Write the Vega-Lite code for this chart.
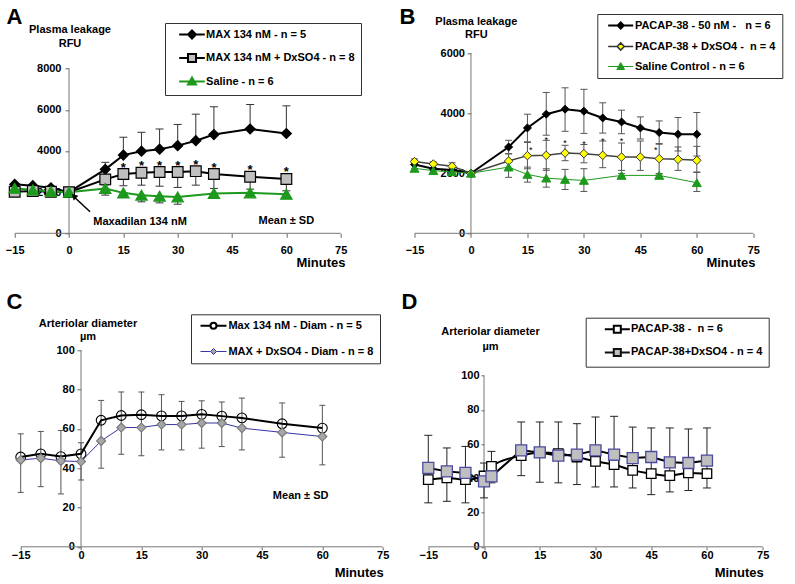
{
  "$schema": "https://vega.github.io/schema/vega-lite/v6.json",
  "autosize": {"type": "none"},
  "padding": {"left": 14.7, "top": 53.3, "right": 780.3, "bottom": 530.7},
  "background": "white",
  "config": {
    "font": "Liberation Sans",
    "view": {"stroke": null},
    "axis": {"labelFont": "Liberation Sans", "labelFontWeight": "bold", "labelFontSize": 11, "labelColor": "#000", "titleFont": "Liberation Sans", "titleFontWeight": "bold", "titleColor": "#000", "grid": false, "domain": false, "tickColor": "#666", "labelFlush": false, "labelOverlap": false, "format": "d"},
    "legend": {"labelFont": "Liberation Sans", "labelFontWeight": "bold", "labelFontSize": 11, "labelColor": "#000", "padding": 6, "strokeColor": "#333", "fillColor": "#ffffff", "labelLimit": 400, "symbolStrokeWidth": 2, "orient": "none", "direction": "vertical"}
  },
  "resolve": {"scale": {"color": "independent", "fill": "independent", "stroke": "independent", "shape": "independent", "size": "independent", "strokeWidth": "independent"}, "legend": {"fill": "independent", "color": "independent", "stroke": "independent", "shape": "independent", "size": "independent", "strokeWidth": "independent"}},
  "datasets": {
    "A": [
      {"s": "MAX 134 nM - n = 5", "t": -15, "v": 2380}, {"s": "MAX 134 nM - n = 5", "t": -10, "v": 2315}, {"s": "MAX 134 nM - n = 5", "t": -5, "v": 2215}, {"s": "MAX 134 nM - n = 5", "t": 0, "v": 2000}, {"s": "MAX 134 nM - n = 5", "t": 10, "v": 3110}, {"s": "MAX 134 nM - n = 5", "t": 15, "v": 3800}, {"s": "MAX 134 nM - n = 5", "t": 20, "v": 3990}, {"s": "MAX 134 nM - n = 5", "t": 25, "v": 4090}, {"s": "MAX 134 nM - n = 5", "t": 30, "v": 4260}, {"s": "MAX 134 nM - n = 5", "t": 35, "v": 4500}, {"s": "MAX 134 nM - n = 5", "t": 40, "v": 4800}, {"s": "MAX 134 nM - n = 5", "t": 50, "v": 5070}, {"s": "MAX 134 nM - n = 5", "t": 60, "v": 4850},
      {"s": "MAX 134 nM + DxSO4 - n = 8", "t": -15, "v": 2020}, {"s": "MAX 134 nM + DxSO4 - n = 8", "t": -10, "v": 2056}, {"s": "MAX 134 nM + DxSO4 - n = 8", "t": -5, "v": 2022}, {"s": "MAX 134 nM + DxSO4 - n = 8", "t": 0, "v": 2000}, {"s": "MAX 134 nM + DxSO4 - n = 8", "t": 10, "v": 2620}, {"s": "MAX 134 nM + DxSO4 - n = 8", "t": 15, "v": 2880}, {"s": "MAX 134 nM + DxSO4 - n = 8", "t": 20, "v": 2940}, {"s": "MAX 134 nM + DxSO4 - n = 8", "t": 25, "v": 2975}, {"s": "MAX 134 nM + DxSO4 - n = 8", "t": 30, "v": 2975}, {"s": "MAX 134 nM + DxSO4 - n = 8", "t": 35, "v": 3020}, {"s": "MAX 134 nM + DxSO4 - n = 8", "t": 40, "v": 2880}, {"s": "MAX 134 nM + DxSO4 - n = 8", "t": 50, "v": 2750}, {"s": "MAX 134 nM + DxSO4 - n = 8", "t": 60, "v": 2635},
      {"s": "Saline - n = 6", "t": -15, "v": 2187}, {"s": "Saline - n = 6", "t": -10, "v": 2105}, {"s": "Saline - n = 6", "t": -5, "v": 2030}, {"s": "Saline - n = 6", "t": 0, "v": 2000}, {"s": "Saline - n = 6", "t": 10, "v": 2180}, {"s": "Saline - n = 6", "t": 15, "v": 1966}, {"s": "Saline - n = 6", "t": 20, "v": 1854}, {"s": "Saline - n = 6", "t": 25, "v": 1805}, {"s": "Saline - n = 6", "t": 30, "v": 1770}, {"s": "Saline - n = 6", "t": 40, "v": 1937}, {"s": "Saline - n = 6", "t": 50, "v": 1966}, {"s": "Saline - n = 6", "t": 60, "v": 1900}
    ],
    "Aerr": [
      {"t": 10, "lo": 3110, "hi": 3450}, {"t": 15, "lo": 3800, "hi": 4670}, {"t": 20, "lo": 3990, "hi": 4910}, {"t": 25, "lo": 4090, "hi": 5070}, {"t": 30, "lo": 4260, "hi": 5290}, {"t": 35, "lo": 4500, "hi": 5790}, {"t": 40, "lo": 4800, "hi": 6150}, {"t": 50, "lo": 5070, "hi": 6260}, {"t": 60, "lo": 4850, "hi": 6195},
      {"t": 10, "lo": 2350, "hi": 2620}, {"t": 15, "lo": 2310, "hi": 2880}, {"t": 20, "lo": 2340, "hi": 2940}, {"t": 25, "lo": 2290, "hi": 2975}, {"t": 30, "lo": 2230, "hi": 2975}, {"t": 35, "lo": 2340, "hi": 3020}, {"t": 40, "lo": 2180, "hi": 2880}, {"t": 50, "lo": 2146, "hi": 2750}, {"t": 60, "lo": 2065, "hi": 2635},
      {"t": 10, "lo": 1855, "hi": 2180}, {"t": 15, "lo": 1740, "hi": 1966}, {"t": 20, "lo": 1530, "hi": 1854}, {"t": 25, "lo": 1480, "hi": 1805}, {"t": 30, "lo": 1415, "hi": 1770}
    ],
    "Astar": [
      {"t": 15, "y": 3317}, {"t": 20, "y": 3400}, {"t": 25, "y": 3400}, {"t": 30, "y": 3400}, {"t": 35, "y": 3480}, {"t": 40, "y": 3340}, {"t": 50, "y": 3237}, {"t": 60, "y": 3125}
    ],
    "B": [
      {"s": "PACAP-38 - 50 nM -\u00a0\u00a0 n = 6", "t": -15, "v": 2290}, {"s": "PACAP-38 - 50 nM -\u00a0\u00a0 n = 6", "t": -10, "v": 2150}, {"s": "PACAP-38 - 50 nM -\u00a0\u00a0 n = 6", "t": -5, "v": 2110}, {"s": "PACAP-38 - 50 nM -\u00a0\u00a0 n = 6", "t": 0, "v": 2000}, {"s": "PACAP-38 - 50 nM -\u00a0\u00a0 n = 6", "t": 10, "v": 2876}, {"s": "PACAP-38 - 50 nM -\u00a0\u00a0 n = 6", "t": 15, "v": 3512}, {"s": "PACAP-38 - 50 nM -\u00a0\u00a0 n = 6", "t": 20, "v": 3970}, {"s": "PACAP-38 - 50 nM -\u00a0\u00a0 n = 6", "t": 25, "v": 4137}, {"s": "PACAP-38 - 50 nM -\u00a0\u00a0 n = 6", "t": 30, "v": 4070}, {"s": "PACAP-38 - 50 nM -\u00a0\u00a0 n = 6", "t": 35, "v": 3846}, {"s": "PACAP-38 - 50 nM -\u00a0\u00a0 n = 6", "t": 40, "v": 3712}, {"s": "PACAP-38 - 50 nM -\u00a0\u00a0 n = 6", "t": 45, "v": 3512}, {"s": "PACAP-38 - 50 nM -\u00a0\u00a0 n = 6", "t": 50, "v": 3358}, {"s": "PACAP-38 - 50 nM -\u00a0\u00a0 n = 6", "t": 55, "v": 3301}, {"s": "PACAP-38 - 50 nM -\u00a0\u00a0 n = 6", "t": 60, "v": 3301},
      {"s": "PACAP-38 + DxSO4 -\u00a0 n = 4", "t": -15, "v": 2390}, {"s": "PACAP-38 + DxSO4 -\u00a0 n = 4", "t": -10, "v": 2310}, {"s": "PACAP-38 + DxSO4 -\u00a0 n = 4", "t": -5, "v": 2232}, {"s": "PACAP-38 + DxSO4 -\u00a0 n = 4", "t": 0, "v": 2000}, {"s": "PACAP-38 + DxSO4 -\u00a0 n = 4", "t": 10, "v": 2408}, {"s": "PACAP-38 + DxSO4 -\u00a0 n = 4", "t": 15, "v": 2589}, {"s": "PACAP-38 + DxSO4 -\u00a0 n = 4", "t": 20, "v": 2599}, {"s": "PACAP-38 + DxSO4 -\u00a0 n = 4", "t": 25, "v": 2676}, {"s": "PACAP-38 + DxSO4 -\u00a0 n = 4", "t": 30, "v": 2655}, {"s": "PACAP-38 + DxSO4 -\u00a0 n = 4", "t": 35, "v": 2599}, {"s": "PACAP-38 + DxSO4 -\u00a0 n = 4", "t": 40, "v": 2542}, {"s": "PACAP-38 + DxSO4 -\u00a0 n = 4", "t": 45, "v": 2542}, {"s": "PACAP-38 + DxSO4 -\u00a0 n = 4", "t": 50, "v": 2488}, {"s": "PACAP-38 + DxSO4 -\u00a0 n = 4", "t": 55, "v": 2465}, {"s": "PACAP-38 + DxSO4 -\u00a0 n = 4", "t": 60, "v": 2431},
      {"s": "Saline Control - n = 6", "t": -15, "v": 2165}, {"s": "Saline Control - n = 6", "t": -10, "v": 2088}, {"s": "Saline Control - n = 6", "t": -5, "v": 2050}, {"s": "Saline Control - n = 6", "t": 0, "v": 2000}, {"s": "Saline Control - n = 6", "t": 10, "v": 2207}, {"s": "Saline Control - n = 6", "t": 15, "v": 1963}, {"s": "Saline Control - n = 6", "t": 20, "v": 1840}, {"s": "Saline Control - n = 6", "t": 25, "v": 1796}, {"s": "Saline Control - n = 6", "t": 30, "v": 1763}, {"s": "Saline Control - n = 6", "t": 40, "v": 1930}, {"s": "Saline Control - n = 6", "t": 50, "v": 1930}, {"s": "Saline Control - n = 6", "t": 60, "v": 1686}
    ],
    "Berr": [
      {"t": -15, "lo": 2150, "hi": 2480}, {"t": -10, "lo": 2030, "hi": 2380}, {"t": -5, "lo": 2000, "hi": 2350}, {"t": 10, "lo": 2650, "hi": 3100}, {"t": 15, "lo": 3050, "hi": 3970}, {"t": 20, "lo": 3270, "hi": 4695}, {"t": 25, "lo": 3400, "hi": 4850}, {"t": 30, "lo": 3330, "hi": 4800}, {"t": 35, "lo": 3340, "hi": 4350}, {"t": 40, "lo": 3320, "hi": 4104}, {"t": 45, "lo": 3144, "hi": 3880}, {"t": 50, "lo": 2970, "hi": 3746}, {"t": 55, "lo": 2743, "hi": 3859}, {"t": 60, "lo": 2575, "hi": 4027},
      {"t": 10, "lo": 2150, "hi": 2650}, {"t": 15, "lo": 2150, "hi": 3030}, {"t": 20, "lo": 2100, "hi": 3100}, {"t": 25, "lo": 2420, "hi": 2933}, {"t": 30, "lo": 2350, "hi": 2960}, {"t": 35, "lo": 2187, "hi": 3077}, {"t": 40, "lo": 2097, "hi": 3010}, {"t": 45, "lo": 2097, "hi": 3077}, {"t": 50, "lo": 1987, "hi": 2990}, {"t": 55, "lo": 2097, "hi": 2878}, {"t": 60, "lo": 2041, "hi": 2900},
      {"t": 10, "lo": 1866, "hi": 2420}, {"t": 15, "lo": 1706, "hi": 2207}, {"t": 20, "lo": 1538, "hi": 2150}, {"t": 25, "lo": 1461, "hi": 2130}, {"t": 30, "lo": 1395, "hi": 2153}, {"t": 40, "lo": 1870, "hi": 1990}, {"t": 50, "lo": 1880, "hi": 1980}, {"t": 60, "lo": 1395, "hi": 2030}
    ],
    "Bstar": [
      {"t": 15.9, "y": 2856}, {"t": 20, "y": 3190}, {"t": 25, "y": 3077}, {"t": 30, "y": 3043}, {"t": 35, "y": 3134}, {"t": 40, "y": 3134}, {"t": 49.1, "y": 2856}
    ],
    "C": [
      {"s": "Max 134 nM - Diam - n = 5", "t": -15, "v": 45.7}, {"s": "Max 134 nM - Diam - n = 5", "t": -10, "v": 47.3}, {"s": "Max 134 nM - Diam - n = 5", "t": -5, "v": 45.9}, {"s": "Max 134 nM - Diam - n = 5", "t": 0, "v": 47.3}, {"s": "Max 134 nM - Diam - n = 5", "t": 5, "v": 64.4}, {"s": "Max 134 nM - Diam - n = 5", "t": 10, "v": 66.8}, {"s": "Max 134 nM - Diam - n = 5", "t": 15, "v": 67.2}, {"s": "Max 134 nM - Diam - n = 5", "t": 20, "v": 66.6}, {"s": "Max 134 nM - Diam - n = 5", "t": 25, "v": 66.6}, {"s": "Max 134 nM - Diam - n = 5", "t": 30, "v": 67.4}, {"s": "Max 134 nM - Diam - n = 5", "t": 35, "v": 66.5}, {"s": "Max 134 nM - Diam - n = 5", "t": 40, "v": 65.6}, {"s": "Max 134 nM - Diam - n = 5", "t": 50, "v": 62.6}, {"s": "Max 134 nM - Diam - n = 5", "t": 60, "v": 60.4},
      {"s": "MAX + DxSO4 - Diam - n = 8", "t": -15, "v": 44.2}, {"s": "MAX + DxSO4 - Diam - n = 8", "t": -10, "v": 45.1}, {"s": "MAX + DxSO4 - Diam - n = 8", "t": -5, "v": 43.7}, {"s": "MAX + DxSO4 - Diam - n = 8", "t": 0, "v": 43.4}, {"s": "MAX + DxSO4 - Diam - n = 8", "t": 5, "v": 53.9}, {"s": "MAX + DxSO4 - Diam - n = 8", "t": 10, "v": 60.7}, {"s": "MAX + DxSO4 - Diam - n = 8", "t": 15, "v": 60.7}, {"s": "MAX + DxSO4 - Diam - n = 8", "t": 20, "v": 62.2}, {"s": "MAX + DxSO4 - Diam - n = 8", "t": 25, "v": 62.2}, {"s": "MAX + DxSO4 - Diam - n = 8", "t": 30, "v": 63}, {"s": "MAX + DxSO4 - Diam - n = 8", "t": 35, "v": 63}, {"s": "MAX + DxSO4 - Diam - n = 8", "t": 40, "v": 60.4}, {"s": "MAX + DxSO4 - Diam - n = 8", "t": 50, "v": 58.2}, {"s": "MAX + DxSO4 - Diam - n = 8", "t": 60, "v": 56.1}
    ],
    "Cerr": [
      {"t": -15, "lo": 27.7, "hi": 57.5}, {"t": -10, "lo": 30.6, "hi": 58.7}, {"t": -5, "lo": 26.9, "hi": 59.2}, {"t": 0, "lo": 34, "hi": 53}, {"t": 5, "lo": 40, "hi": 74.5}, {"t": 10, "lo": 47.1, "hi": 78.8}, {"t": 15, "lo": 46.3, "hi": 78.8}, {"t": 20, "lo": 49.3, "hi": 77.4}, {"t": 25, "lo": 49.3, "hi": 74}, {"t": 30, "lo": 50.2, "hi": 74.3}, {"t": 35, "lo": 51, "hi": 73.7}, {"t": 40, "lo": 49.3, "hi": 75.7}, {"t": 50, "lo": 45.6, "hi": 73.2}, {"t": 60, "lo": 41.7, "hi": 72}
    ],
    "D": [
      {"s": "PACAP-38 -\u00a0 n = 6", "t": -15, "v": 39.3}, {"s": "PACAP-38 -\u00a0 n = 6", "t": -10, "v": 40.3}, {"s": "PACAP-38 -\u00a0 n = 6", "t": -5, "v": 39.3}, {"s": "PACAP-38 -\u00a0 n = 6", "t": 0, "v": 41.4}, {"s": "PACAP-38 -\u00a0 n = 6", "t": 2, "v": 47}, {"s": "PACAP-38 -\u00a0 n = 6", "t": 10, "v": 53.3}, {"s": "PACAP-38 -\u00a0 n = 6", "t": 15, "v": 55.2}, {"s": "PACAP-38 -\u00a0 n = 6", "t": 20, "v": 54.5}, {"s": "PACAP-38 -\u00a0 n = 6", "t": 25, "v": 52.5}, {"s": "PACAP-38 -\u00a0 n = 6", "t": 30, "v": 50}, {"s": "PACAP-38 -\u00a0 n = 6", "t": 35, "v": 48}, {"s": "PACAP-38 -\u00a0 n = 6", "t": 40, "v": 44.7}, {"s": "PACAP-38 -\u00a0 n = 6", "t": 45, "v": 42.8}, {"s": "PACAP-38 -\u00a0 n = 6", "t": 50, "v": 41.6}, {"s": "PACAP-38 -\u00a0 n = 6", "t": 55, "v": 43.2}, {"s": "PACAP-38 -\u00a0 n = 6", "t": 60, "v": 42.8},
      {"s": "PACAP-38+DxSO4 - n = 4", "t": -15, "v": 46.1}, {"s": "PACAP-38+DxSO4 - n = 4", "t": -10, "v": 44.1}, {"s": "PACAP-38+DxSO4 - n = 4", "t": -5, "v": 43.2}, {"s": "PACAP-38+DxSO4 - n = 4", "t": 0, "v": 38.3}, {"s": "PACAP-38+DxSO4 - n = 4", "t": 2, "v": 41.2}, {"s": "PACAP-38+DxSO4 - n = 4", "t": 10, "v": 56.4}, {"s": "PACAP-38+DxSO4 - n = 4", "t": 15, "v": 55.2}, {"s": "PACAP-38+DxSO4 - n = 4", "t": 20, "v": 53.3}, {"s": "PACAP-38+DxSO4 - n = 4", "t": 25, "v": 53.9}, {"s": "PACAP-38+DxSO4 - n = 4", "t": 30, "v": 56.4}, {"s": "PACAP-38+DxSO4 - n = 4", "t": 35, "v": 53.9}, {"s": "PACAP-38+DxSO4 - n = 4", "t": 40, "v": 51.9}, {"s": "PACAP-38+DxSO4 - n = 4", "t": 45, "v": 52.5}, {"s": "PACAP-38+DxSO4 - n = 4", "t": 50, "v": 49.4}, {"s": "PACAP-38+DxSO4 - n = 4", "t": 55, "v": 49}, {"s": "PACAP-38+DxSO4 - n = 4", "t": 60, "v": 50.4}
    ],
    "Derr": [
      {"t": -15, "lo": 25.7, "hi": 65.2}, {"t": -10, "lo": 26.6, "hi": 57.8}, {"t": -5, "lo": 25.7, "hi": 58.7}, {"t": 0, "lo": 28.6, "hi": 49}, {"t": 2, "lo": 37.4, "hi": 55.8}, {"t": 10, "lo": 41.6, "hi": 73}, {"t": 15, "lo": 37.7, "hi": 73}, {"t": 20, "lo": 37.4, "hi": 73}, {"t": 25, "lo": 36.4, "hi": 72}, {"t": 30, "lo": 35, "hi": 75.9}, {"t": 35, "lo": 35, "hi": 76.3}, {"t": 40, "lo": 34.4, "hi": 70}, {"t": 45, "lo": 30.5, "hi": 69.5}, {"t": 50, "lo": 32.1, "hi": 69.5}, {"t": 55, "lo": 32.9, "hi": 68.9}, {"t": 60, "lo": 34.4, "hi": 69.5}
    ]
  },
  "columns": 2,
  "spacing": {"row": 117, "column": 31.8},
  "bounds": "flush",
  "concat": [
    {
      "width": 368, "height": 180,
      "data": {"name": "A"},
      "resolve": {"axis": {"x": "independent", "y": "independent"}, "scale": {"color": "independent", "fill": "independent", "stroke": "independent", "shape": "independent", "size": "independent", "strokeWidth": "independent"}},
      "layer": [
        {"data": {"values": [{}]}, "mark": {"type": "rule", "color": "#777", "strokeWidth": 1},
         "encoding": {"x": {"datum": -15, "type": "quantitative", "scale": {"domain": [-15, 86.6], "nice": false, "zero": false}, "axis": null}, "x2": {"datum": 75}, "y": {"datum": 0, "type": "quantitative", "scale": {"domain": [0, 8748], "nice": false, "zero": false}, "axis": null}}},
        {"data": {"values": [{}]}, "mark": {"type": "rule", "color": "#777", "strokeWidth": 1},
         "encoding": {"x": {"datum": 0, "type": "quantitative", "scale": {"domain": [-15, 86.6], "nice": false, "zero": false}, "axis": null}, "y": {"datum": 0, "type": "quantitative", "scale": {"domain": [0, 8748], "nice": false, "zero": false}, "axis": null}, "y2": {"datum": 8000}}},
        {"data": {"name": "Aerr"}, "mark": {"type": "rule", "color": "#333", "strokeWidth": 1},
         "encoding": {"x": {"field": "t", "type": "quantitative", "scale": {"domain": [-15, 86.6], "nice": false, "zero": false}, "axis": {"orient": "top", "labels": false, "ticks": false, "domain": false, "title": "A", "titleFontSize": 22, "titleAngle": 0, "titleAlign": "left", "titleBaseline": "alphabetic", "titleX": -8.7, "titleY": -30}}, "y": {"field": "lo", "type": "quantitative", "scale": {"domain": [0, 8748], "nice": false, "zero": false}, "axis": null}, "y2": {"field": "hi"}}},
        {"data": {"name": "Aerr"}, "mark": {"type": "tick", "orient": "horizontal", "size": 8, "thickness": 1, "color": "#333", "opacity": 1},
         "encoding": {"x": {"field": "t", "type": "quantitative", "scale": {"domain": [-15, 86.6], "nice": false, "zero": false}, "axis": null}, "y": {"field": "hi", "type": "quantitative", "scale": {"domain": [0, 8748], "nice": false, "zero": false}, "axis": null}}},
        {"data": {"name": "Aerr"}, "mark": {"type": "tick", "orient": "horizontal", "size": 8, "thickness": 1, "color": "#333", "opacity": 1},
         "encoding": {"x": {"field": "t", "type": "quantitative", "scale": {"domain": [-15, 86.6], "nice": false, "zero": false}, "axis": null}, "y": {"field": "lo", "type": "quantitative", "scale": {"domain": [0, 8748], "nice": false, "zero": false}, "axis": null}}},
        {"mark": {"type": "line", "strokeWidth": 2},
         "encoding": {
           "x": {"field": "t", "type": "quantitative", "scale": {"domain": [-15, 86.6], "nice": false, "zero": false}, "axis": {"orient": "bottom", "values": [-15, 0, 15, 30, 45, 60, 75], "tickSize": 4, "labelPadding": 7, "title": "Minutes", "titleFontSize": 13, "titleAlign": "right", "titleBaseline": "alphabetic", "titleX": 330.3, "titleY": 33}},
           "y": {"field": "v", "type": "quantitative", "scale": {"domain": [0, 8748], "nice": false, "zero": false}, "axis": {"orient": "left", "offset": -54.3, "values": [0, 2000, 4000, 6000, 8000], "tickSize": 4, "labelPadding": 4, "title": ["Plasma leakage", "RFU"], "titleFontSize": 11, "titleAngle": 0, "titleAlign": "center", "titleBaseline": "alphabetic", "titleX": 0.5, "titleY": -20.8, "titleLineHeight": 13.5}},
           "color": {"field": "s", "type": "nominal", "scale": {"domain": ["MAX 134 nM - n = 5", "MAX 134 nM + DxSO4 - n = 8", "Saline - n = 6"], "range": ["#000000", "#000000", "#1d9a1d"]}, "legend": null}
         }},
        {"mark": {"type": "point", "filled": true, "opacity": 1, "strokeWidth": 1.2},
         "encoding": {
           "x": {"field": "t", "type": "quantitative", "scale": {"domain": [-15, 86.6], "nice": false, "zero": false}, "axis": null},
           "y": {"field": "v", "type": "quantitative", "scale": {"domain": [0, 8748], "nice": false, "zero": false}, "axis": null},
           "shape": {"field": "s", "type": "nominal", "scale": {"domain": ["MAX 134 nM - n = 5", "MAX 134 nM + DxSO4 - n = 8", "Saline - n = 6"], "range": ["diamond", "square", "triangle-up"]}, "legend": null},
           "size": {"field": "s", "type": "nominal", "scale": {"domain": ["MAX 134 nM - n = 5", "MAX 134 nM + DxSO4 - n = 8", "Saline - n = 6"], "range": [100, 130, 110]}, "legend": null},
           "stroke": {"field": "s", "type": "nominal", "scale": {"domain": ["MAX 134 nM - n = 5", "MAX 134 nM + DxSO4 - n = 8", "Saline - n = 6"], "range": ["#000000", "#000000", "#1d9a1d"]}, "legend": null},
           "fill": {"field": "s", "type": "nominal", "scale": {"domain": ["MAX 134 nM - n = 5", "MAX 134 nM + DxSO4 - n = 8", "Saline - n = 6"], "range": ["#000000", "#c0c0c0", "#1d9a1d"]}, "legend": null}
         }},
        {"data": {"name": "Astar"}, "mark": {"type": "text", "text": "*", "fontSize": 13, "fontWeight": "bold", "baseline": "middle", "dy": 3},
         "encoding": {"x": {"field": "t", "type": "quantitative", "scale": {"domain": [-15, 86.6], "nice": false, "zero": false}, "axis": null}, "y": {"field": "y", "type": "quantitative", "scale": {"domain": [0, 8748], "nice": false, "zero": false}, "axis": null}}},
        {"data": {"values": [{}]}, "mark": {"type": "text", "text": "Maxadilan 134 nM", "fontSize": 11, "fontWeight": "bold", "align": "center", "baseline": "middle"},
         "encoding": {"x": {"datum": 19.6, "type": "quantitative", "scale": {"domain": [-15, 86.6], "nice": false, "zero": false}, "axis": null}, "y": {"datum": 573, "type": "quantitative", "scale": {"domain": [0, 8748], "nice": false, "zero": false}, "axis": null}}},
        {"data": {"values": [{}]}, "mark": {"type": "text", "text": "Mean ± SD", "fontSize": 11, "fontWeight": "bold", "align": "center", "baseline": "middle"},
         "encoding": {"x": {"datum": 60, "type": "quantitative", "scale": {"domain": [-15, 86.6], "nice": false, "zero": false}, "axis": null}, "y": {"datum": 598, "type": "quantitative", "scale": {"domain": [0, 8748], "nice": false, "zero": false}, "axis": null}}},
        {"data": {"values": [{}]}, "mark": {"type": "rule", "color": "#000", "strokeWidth": 1.5},
         "encoding": {"x": {"datum": 5.8, "type": "quantitative", "scale": {"domain": [-15, 86.6], "nice": false, "zero": false}, "axis": null}, "y": {"datum": 1050, "type": "quantitative", "scale": {"domain": [0, 8748], "nice": false, "zero": false}, "axis": null}, "x2": {"datum": 1.2}, "y2": {"datum": 1800}}},
        {"data": {"values": [{}]}, "mark": {"type": "point", "shape": "triangle-up", "filled": true, "color": "#000", "opacity": 1, "size": 45, "angle": 314},
         "encoding": {"x": {"datum": 1.35, "type": "quantitative", "scale": {"domain": [-15, 86.6], "nice": false, "zero": false}, "axis": null}, "y": {"datum": 1808, "type": "quantitative", "scale": {"domain": [0, 8748], "nice": false, "zero": false}, "axis": null}}},
        {"transform": [{"filter": "false"}], "mark": {"type": "point", "filled": true, "opacity": 1},
         "encoding": {
           "x": {"field": "t", "type": "quantitative", "scale": {"domain": [-15, 86.6], "nice": false, "zero": false}, "axis": null},
           "y": {"field": "v", "type": "quantitative", "scale": {"domain": [0, 8748], "nice": false, "zero": false}, "axis": null},
           "shape": {"field": "s", "type": "nominal", "scale": {"domain": ["MAX 134 nM - n = 5", "MAX 134 nM + DxSO4 - n = 8", "Saline - n = 6"], "range": ["M-3.2,0H3.2M0,-1L1,0L0,1L-1,0Z", "M-3.2,0H-1M1,0H3.2M-1,-1H1V1H-1Z", "M-3.2,0H3.2M0,-1L1,0.75L-1,0.75Z"]}},
           "stroke": {"field": "s", "type": "nominal", "scale": {"domain": ["MAX 134 nM - n = 5", "MAX 134 nM + DxSO4 - n = 8", "Saline - n = 6"], "range": ["#000000", "#000000", "#1d9a1d"]}},
           "fill": {"field": "s", "type": "nominal", "scale": {"domain": ["MAX 134 nM - n = 5", "MAX 134 nM + DxSO4 - n = 8", "Saline - n = 6"], "range": ["#000000", "#c0c0c0", "#1d9a1d"]},
             "legend": {"title": null, "orient": "none", "direction": "vertical", "legendX": 150.3, "legendY": -30.3, "symbolSize": 64, "symbolStrokeWidth": 2, "symbolOffset": 15.5, "labelOffset": 8.6, "rowPadding": 6.5}}
         }}
      ]
    },
    {
      "width": 348.2, "height": 180,
      "data": {"name": "B"},
      "resolve": {"axis": {"x": "independent", "y": "independent"}, "scale": {"color": "independent", "fill": "independent", "stroke": "independent", "shape": "independent", "size": "independent", "strokeWidth": "independent"}},
      "layer": [
        {"data": {"values": [{}]}, "mark": {"type": "rule", "color": "#777", "strokeWidth": 1},
         "encoding": {"x": {"datum": -15, "type": "quantitative", "scale": {"domain": [-15, 77.5], "nice": false, "zero": false}, "axis": null}, "x2": {"datum": 75}, "y": {"datum": 0, "type": "quantitative", "scale": {"domain": [0, 6000], "nice": false, "zero": false}, "axis": null}}},
        {"data": {"values": [{}]}, "mark": {"type": "rule", "color": "#777", "strokeWidth": 1},
         "encoding": {"x": {"datum": 0, "type": "quantitative", "scale": {"domain": [-15, 77.5], "nice": false, "zero": false}, "axis": null}, "y": {"datum": 0, "type": "quantitative", "scale": {"domain": [0, 6000], "nice": false, "zero": false}, "axis": null}, "y2": {"datum": 6000}}},
        {"data": {"name": "Berr"}, "mark": {"type": "rule", "color": "#555", "strokeWidth": 1},
         "encoding": {"x": {"field": "t", "type": "quantitative", "scale": {"domain": [-15, 77.5], "nice": false, "zero": false}, "axis": {"orient": "top", "labels": false, "ticks": false, "domain": false, "title": "B", "titleFontSize": 22, "titleAngle": 0, "titleAlign": "left", "titleBaseline": "alphabetic", "titleX": -15.5, "titleY": -30}}, "y": {"field": "lo", "type": "quantitative", "scale": {"domain": [0, 6000], "nice": false, "zero": false}, "axis": null}, "y2": {"field": "hi"}}},
        {"data": {"name": "Berr"}, "mark": {"type": "tick", "orient": "horizontal", "size": 7, "thickness": 1, "color": "#555", "opacity": 1},
         "encoding": {"x": {"field": "t", "type": "quantitative", "scale": {"domain": [-15, 77.5], "nice": false, "zero": false}, "axis": null}, "y": {"field": "hi", "type": "quantitative", "scale": {"domain": [0, 6000], "nice": false, "zero": false}, "axis": null}}},
        {"data": {"name": "Berr"}, "mark": {"type": "tick", "orient": "horizontal", "size": 7, "thickness": 1, "color": "#555", "opacity": 1},
         "encoding": {"x": {"field": "t", "type": "quantitative", "scale": {"domain": [-15, 77.5], "nice": false, "zero": false}, "axis": null}, "y": {"field": "lo", "type": "quantitative", "scale": {"domain": [0, 6000], "nice": false, "zero": false}, "axis": null}}},
        {"mark": {"type": "line"},
         "encoding": {
           "x": {"field": "t", "type": "quantitative", "scale": {"domain": [-15, 77.5], "nice": false, "zero": false}, "axis": {"orient": "bottom", "values": [-15, 0, 15, 30, 45, 60, 75], "tickSize": 4, "labelPadding": 7, "title": "Minutes", "titleFontSize": 13, "titleAlign": "right", "titleBaseline": "alphabetic", "titleX": 340.5, "titleY": 33}},
           "y": {"field": "v", "type": "quantitative", "scale": {"domain": [0, 6000], "nice": false, "zero": false}, "axis": {"orient": "left", "offset": -56.5, "values": [0, 2000, 4000, 6000], "tickSize": 4, "labelPadding": 2.5, "title": ["Plasma leakage", "RFU"], "titleFontSize": 11, "titleAngle": 0, "titleAlign": "center", "titleBaseline": "alphabetic", "titleX": 4.8, "titleY": -29, "titleLineHeight": 13}},
           "color": {"field": "s", "type": "nominal", "scale": {"domain": ["PACAP-38 - 50 nM -\u00a0\u00a0 n = 6", "PACAP-38 + DxSO4 -\u00a0 n = 4", "Saline Control - n = 6"], "range": ["#000000", "#444444", "#1d9a1d"]}, "legend": null},
           "strokeWidth": {"field": "s", "type": "ordinal", "scale": {"domain": ["PACAP-38 - 50 nM -\u00a0\u00a0 n = 6", "PACAP-38 + DxSO4 -\u00a0 n = 4", "Saline Control - n = 6"], "range": [2, 1, 2]}, "legend": null}
         }},
        {"mark": {"type": "point", "filled": true, "opacity": 1, "strokeWidth": 1},
         "encoding": {
           "x": {"field": "t", "type": "quantitative", "scale": {"domain": [-15, 77.5], "nice": false, "zero": false}, "axis": null},
           "y": {"field": "v", "type": "quantitative", "scale": {"domain": [0, 6000], "nice": false, "zero": false}, "axis": null},
           "shape": {"field": "s", "type": "nominal", "scale": {"domain": ["PACAP-38 - 50 nM -\u00a0\u00a0 n = 6", "PACAP-38 + DxSO4 -\u00a0 n = 4", "Saline Control - n = 6"], "range": ["diamond", "diamond", "triangle-up"]}, "legend": null},
           "size": {"field": "s", "type": "nominal", "scale": {"domain": ["PACAP-38 - 50 nM -\u00a0\u00a0 n = 6", "PACAP-38 + DxSO4 -\u00a0 n = 4", "Saline Control - n = 6"], "range": [64, 81, 100]}, "legend": null},
           "stroke": {"field": "s", "type": "nominal", "scale": {"domain": ["PACAP-38 - 50 nM -\u00a0\u00a0 n = 6", "PACAP-38 + DxSO4 -\u00a0 n = 4", "Saline Control - n = 6"], "range": ["#000000", "#333333", "#1d9a1d"]}, "legend": null},
           "fill": {"field": "s", "type": "nominal", "scale": {"domain": ["PACAP-38 - 50 nM -\u00a0\u00a0 n = 6", "PACAP-38 + DxSO4 -\u00a0 n = 4", "Saline Control - n = 6"], "range": ["#000000", "#ffff00", "#1d9a1d"]}, "legend": null}
         }},
        {"data": {"name": "Bstar"}, "mark": {"type": "text", "text": "*", "fontSize": 9, "baseline": "middle", "dy": 2},
         "encoding": {"x": {"field": "t", "type": "quantitative", "scale": {"domain": [-15, 77.5], "nice": false, "zero": false}, "axis": null}, "y": {"field": "y", "type": "quantitative", "scale": {"domain": [0, 6000], "nice": false, "zero": false}, "axis": null}}},
        {"transform": [{"filter": "false"}], "mark": {"type": "point", "filled": true, "opacity": 1},
         "encoding": {
           "x": {"field": "t", "type": "quantitative", "scale": {"domain": [-15, 77.5], "nice": false, "zero": false}, "axis": null},
           "y": {"field": "v", "type": "quantitative", "scale": {"domain": [0, 6000], "nice": false, "zero": false}, "axis": null},
           "shape": {"field": "s", "type": "nominal", "scale": {"domain": ["PACAP-38 - 50 nM -\u00a0\u00a0 n = 6", "PACAP-38 + DxSO4 -\u00a0 n = 4", "Saline Control - n = 6"], "range": ["M-4.17,0H4.17M0,-1L1,0L0,1L-1,0Z", "M-4.17,0H-1.2M1.2,0H4.17M0,-1.2L1.2,0L0,1.2L-1.2,0Z", "M-4.17,0H4.17M0,-1.3L1.3,1H-1.3Z"]}},
           "stroke": {"field": "s", "type": "nominal", "scale": {"domain": ["PACAP-38 - 50 nM -\u00a0\u00a0 n = 6", "PACAP-38 + DxSO4 -\u00a0 n = 4", "Saline Control - n = 6"], "range": ["#000000", "#333333", "#1d9a1d"]}},
           "strokeWidth": {"field": "s", "type": "ordinal", "scale": {"domain": ["PACAP-38 - 50 nM -\u00a0\u00a0 n = 6", "PACAP-38 + DxSO4 -\u00a0 n = 4", "Saline Control - n = 6"], "range": [2, 1, 2]}},
           "fill": {"field": "s", "type": "nominal", "scale": {"domain": ["PACAP-38 - 50 nM -\u00a0\u00a0 n = 6", "PACAP-38 + DxSO4 -\u00a0 n = 4", "Saline Control - n = 6"], "range": ["#000000", "#ffff00", "#1d9a1d"]},
             "legend": {"title": null, "orient": "none", "direction": "vertical", "legendX": 182.8, "legendY": -39.3, "symbolSize": 36, "symbolOffset": 11.9, "labelOffset": 8.7, "rowPadding": 6}}
         }}
      ]
    },
    {
      "width": 368, "height": 196.5,
      "data": {"name": "C"},
      "resolve": {"axis": {"x": "independent", "y": "independent"}, "scale": {"color": "independent", "fill": "independent", "stroke": "independent", "shape": "independent", "size": "independent", "strokeWidth": "independent"}},
      "layer": [
        {"data": {"values": [{}]}, "mark": {"type": "rule", "color": "#777", "strokeWidth": 1},
         "encoding": {"x": {"datum": -15, "type": "quantitative", "scale": {"domain": [-16.49, 75], "nice": false, "zero": false}, "axis": null}, "x2": {"datum": 75}, "y": {"datum": 0, "type": "quantitative", "scale": {"domain": [0, 100], "nice": false, "zero": false}, "axis": null}}},
        {"data": {"values": [{}]}, "mark": {"type": "rule", "color": "#777", "strokeWidth": 1},
         "encoding": {"x": {"datum": 0, "type": "quantitative", "scale": {"domain": [-16.49, 75], "nice": false, "zero": false}, "axis": null}, "y": {"datum": 0, "type": "quantitative", "scale": {"domain": [0, 100], "nice": false, "zero": false}, "axis": null}, "y2": {"datum": 100}}},
        {"data": {"name": "Cerr"}, "mark": {"type": "rule", "color": "#555", "strokeWidth": 1},
         "encoding": {"x": {"field": "t", "type": "quantitative", "scale": {"domain": [-16.49, 75], "nice": false, "zero": false}, "axis": {"orient": "top", "labels": false, "ticks": false, "domain": false, "title": "C", "titleFontSize": 22, "titleAngle": 0, "titleAlign": "left", "titleBaseline": "alphabetic", "titleX": -8.7, "titleY": -42}}, "y": {"field": "lo", "type": "quantitative", "scale": {"domain": [0, 100], "nice": false, "zero": false}, "axis": null}, "y2": {"field": "hi"}}},
        {"data": {"name": "Cerr"}, "mark": {"type": "tick", "orient": "horizontal", "size": 6, "thickness": 1, "color": "#555", "opacity": 1},
         "encoding": {"x": {"field": "t", "type": "quantitative", "scale": {"domain": [-16.49, 75], "nice": false, "zero": false}, "axis": null}, "y": {"field": "hi", "type": "quantitative", "scale": {"domain": [0, 100], "nice": false, "zero": false}, "axis": null}}},
        {"data": {"name": "Cerr"}, "mark": {"type": "tick", "orient": "horizontal", "size": 6, "thickness": 1, "color": "#555", "opacity": 1},
         "encoding": {"x": {"field": "t", "type": "quantitative", "scale": {"domain": [-16.49, 75], "nice": false, "zero": false}, "axis": null}, "y": {"field": "lo", "type": "quantitative", "scale": {"domain": [0, 100], "nice": false, "zero": false}, "axis": null}}},
        {"mark": {"type": "line"},
         "encoding": {
           "x": {"field": "t", "type": "quantitative", "scale": {"domain": [-16.49, 75], "nice": false, "zero": false}, "axis": {"orient": "bottom", "values": [-15, 0, 15, 30, 45, 60, 75], "tickSize": 3, "labelPadding": 0, "title": "Minutes", "titleFontSize": 13, "titleAlign": "right", "titleBaseline": "alphabetic", "titleX": 368.6, "titleY": 30}},
           "y": {"field": "v", "type": "quantitative", "scale": {"domain": [0, 100], "nice": false, "zero": false}, "axis": {"orient": "left", "offset": -66.3, "values": [0, 20, 40, 60, 80, 100], "tickSize": 4, "labelPadding": 2.7, "title": ["Arteriolar diameter", "µm"], "titleFontSize": 11, "titleAngle": 0, "titleAlign": "center", "titleBaseline": "alphabetic", "titleX": 6.5, "titleY": -23.6, "titleLineHeight": 13}},
           "color": {"field": "s", "type": "nominal", "scale": {"domain": ["Max 134 nM - Diam - n = 5", "MAX + DxSO4 - Diam - n = 8"], "range": ["#000000", "#3535a5"]}, "legend": null},
           "strokeWidth": {"field": "s", "type": "ordinal", "scale": {"domain": ["Max 134 nM - Diam - n = 5", "MAX + DxSO4 - Diam - n = 8"], "range": [2, 1]}, "legend": null}
         }},
        {"mark": {"type": "point", "filled": true, "opacity": 1, "strokeWidth": 1.1},
         "encoding": {
           "x": {"field": "t", "type": "quantitative", "scale": {"domain": [-16.49, 75], "nice": false, "zero": false}, "axis": null},
           "y": {"field": "v", "type": "quantitative", "scale": {"domain": [0, 100], "nice": false, "zero": false}, "axis": null},
           "shape": {"field": "s", "type": "nominal", "scale": {"domain": ["Max 134 nM - Diam - n = 5", "MAX + DxSO4 - Diam - n = 8"], "range": ["circle", "diamond"]}, "legend": null},
           "size": {"field": "s", "type": "nominal", "scale": {"domain": ["Max 134 nM - Diam - n = 5", "MAX + DxSO4 - Diam - n = 8"], "range": [95, 81]}, "legend": null},
           "stroke": {"field": "s", "type": "nominal", "scale": {"domain": ["Max 134 nM - Diam - n = 5", "MAX + DxSO4 - Diam - n = 8"], "range": ["#000000", "#777777"]}, "legend": null},
           "fill": {"field": "s", "type": "nominal", "scale": {"domain": ["Max 134 nM - Diam - n = 5", "MAX + DxSO4 - Diam - n = 8"], "range": ["transparent", "#a6a6a6"]}, "legend": null}
         }},
        {"data": {"values": [{}]}, "mark": {"type": "text", "text": "Mean ± SD", "fontSize": 11, "fontWeight": "bold", "align": "center", "baseline": "middle"},
         "encoding": {"x": {"datum": 54.6, "type": "quantitative", "scale": {"domain": [-16.49, 75], "nice": false, "zero": false}, "axis": null}, "y": {"datum": 25.9, "type": "quantitative", "scale": {"domain": [0, 100], "nice": false, "zero": false}, "axis": null}}},
        {"transform": [{"filter": "false"}], "mark": {"type": "point", "filled": true, "opacity": 1},
         "encoding": {
           "x": {"field": "t", "type": "quantitative", "scale": {"domain": [-16.49, 75], "nice": false, "zero": false}, "axis": null},
           "y": {"field": "v", "type": "quantitative", "scale": {"domain": [0, 100], "nice": false, "zero": false}, "axis": null},
           "shape": {"field": "s", "type": "nominal", "scale": {"domain": ["Max 134 nM - Diam - n = 5", "MAX + DxSO4 - Diam - n = 8"], "range": ["M-4.33,0H-1M1,0H4.33M1,0A1,1,0,1,1,-1,0A1,1,0,1,1,1,0", "M-4.33,0H-1M1,0H4.33M0,-1L1,0L0,1L-1,0Z"]}},
           "stroke": {"field": "s", "type": "nominal", "scale": {"domain": ["Max 134 nM - Diam - n = 5", "MAX + DxSO4 - Diam - n = 8"], "range": ["#000000", "#3535a5"]}},
           "strokeWidth": {"field": "s", "type": "ordinal", "scale": {"domain": ["Max 134 nM - Diam - n = 5", "MAX + DxSO4 - Diam - n = 8"], "range": [2, 1]}},
           "fill": {"field": "s", "type": "nominal", "scale": {"domain": ["Max 134 nM - Diam - n = 5", "MAX + DxSO4 - Diam - n = 8"], "range": ["#ffffff", "#a6a6a6"]},
             "legend": {"title": null, "orient": "none", "direction": "vertical", "legendX": 176.3, "legendY": -36, "symbolSize": 36, "symbolOffset": 11, "labelOffset": 9.4, "rowPadding": 11.7}}
         }}
      ]
    },
    {
      "width": 348.2, "height": 196.5,
      "data": {"name": "D"},
      "resolve": {"axis": {"x": "independent", "y": "independent"}, "scale": {"color": "independent", "fill": "independent", "stroke": "independent", "shape": "independent", "size": "independent", "strokeWidth": "independent"}},
      "layer": [
        {"data": {"values": [{}]}, "mark": {"type": "rule", "color": "#777", "strokeWidth": 1},
         "encoding": {"x": {"datum": -15, "type": "quantitative", "scale": {"domain": [-18.71, 75], "nice": false, "zero": false}, "axis": null}, "x2": {"datum": 75}, "y": {"datum": 0, "type": "quantitative", "scale": {"domain": [0, 114.9], "nice": false, "zero": false}, "axis": null}}},
        {"data": {"values": [{}]}, "mark": {"type": "rule", "color": "#777", "strokeWidth": 1},
         "encoding": {"x": {"datum": 0, "type": "quantitative", "scale": {"domain": [-18.71, 75], "nice": false, "zero": false}, "axis": null}, "y": {"datum": 0, "type": "quantitative", "scale": {"domain": [0, 114.9], "nice": false, "zero": false}, "axis": null}, "y2": {"datum": 100}}},
        {"data": {"name": "Derr"}, "mark": {"type": "rule", "color": "#222", "strokeWidth": 1},
         "encoding": {"x": {"field": "t", "type": "quantitative", "scale": {"domain": [-18.71, 75], "nice": false, "zero": false}, "axis": {"orient": "top", "labels": false, "ticks": false, "domain": false, "title": "D", "titleFontSize": 22, "titleAngle": 0, "titleAlign": "left", "titleBaseline": "alphabetic", "titleX": -13.5, "titleY": -42}}, "y": {"field": "lo", "type": "quantitative", "scale": {"domain": [0, 114.9], "nice": false, "zero": false}, "axis": null}, "y2": {"field": "hi"}}},
        {"data": {"name": "Derr"}, "mark": {"type": "tick", "orient": "horizontal", "size": 8, "thickness": 1, "color": "#222", "opacity": 1},
         "encoding": {"x": {"field": "t", "type": "quantitative", "scale": {"domain": [-18.71, 75], "nice": false, "zero": false}, "axis": null}, "y": {"field": "hi", "type": "quantitative", "scale": {"domain": [0, 114.9], "nice": false, "zero": false}, "axis": null}}},
        {"data": {"name": "Derr"}, "mark": {"type": "tick", "orient": "horizontal", "size": 8, "thickness": 1, "color": "#222", "opacity": 1},
         "encoding": {"x": {"field": "t", "type": "quantitative", "scale": {"domain": [-18.71, 75], "nice": false, "zero": false}, "axis": null}, "y": {"field": "lo", "type": "quantitative", "scale": {"domain": [0, 114.9], "nice": false, "zero": false}, "axis": null}}},
        {"transform": [{"filter": "!test(/DxSO4/, datum.s)"}], "mark": {"type": "line", "strokeWidth": 2, "color": "#000", "interpolate": "monotone"},
         "encoding": {
           "x": {"field": "t", "type": "quantitative", "scale": {"domain": [-18.71, 75], "nice": false, "zero": false}, "axis": {"orient": "bottom", "values": [-15, 0, 15, 30, 45, 60, 75], "tickSize": 3, "labelPadding": 0, "title": "Minutes", "titleFontSize": 13, "titleAlign": "right", "titleBaseline": "alphabetic", "titleX": 348.8, "titleY": 30}},
           "y": {"field": "v", "type": "quantitative", "scale": {"domain": [0, 114.9], "nice": false, "zero": false}, "axis": {"orient": "left", "offset": -69.5, "values": [0, 20, 40, 60, 80, 100], "tickSize": 3, "labelPadding": 2, "title": ["Arteriolar diameter", "µm"], "titleFontSize": 11, "titleAngle": 0, "titleAlign": "center", "titleBaseline": "alphabetic", "titleX": 6, "titleY": -16, "titleLineHeight": 15}}
         }},
        {"transform": [{"filter": "test(/DxSO4/, datum.s)"}], "mark": {"type": "line", "strokeWidth": 2, "color": "#000"},
         "encoding": {
           "x": {"field": "t", "type": "quantitative", "scale": {"domain": [-18.71, 75], "nice": false, "zero": false}, "axis": null},
           "y": {"field": "v", "type": "quantitative", "scale": {"domain": [0, 114.9], "nice": false, "zero": false}, "axis": null}
         }},
        {"mark": {"type": "point", "filled": true, "opacity": 1, "strokeWidth": 1.3},
         "encoding": {
           "x": {"field": "t", "type": "quantitative", "scale": {"domain": [-18.71, 75], "nice": false, "zero": false}, "axis": null},
           "y": {"field": "v", "type": "quantitative", "scale": {"domain": [0, 114.9], "nice": false, "zero": false}, "axis": null},
           "shape": {"field": "s", "type": "nominal", "scale": {"domain": ["PACAP-38 -\u00a0 n = 6", "PACAP-38+DxSO4 - n = 4"], "range": ["square", "square"]}, "legend": null},
           "size": {"field": "s", "type": "nominal", "scale": {"domain": ["PACAP-38 -\u00a0 n = 6", "PACAP-38+DxSO4 - n = 4"], "range": [90, 121]}, "legend": null},
           "stroke": {"field": "s", "type": "nominal", "scale": {"domain": ["PACAP-38 -\u00a0 n = 6", "PACAP-38+DxSO4 - n = 4"], "range": ["#000000", "#4a4aa0"]}, "legend": null},
           "fill": {"field": "s", "type": "nominal", "scale": {"domain": ["PACAP-38 -\u00a0 n = 6", "PACAP-38+DxSO4 - n = 4"], "range": ["#ffffff", "#bfbfbf"]}, "legend": null}
         }},
        {"transform": [{"filter": "false"}], "mark": {"type": "point", "filled": true, "opacity": 1},
         "encoding": {
           "x": {"field": "t", "type": "quantitative", "scale": {"domain": [-18.71, 75], "nice": false, "zero": false}, "axis": null},
           "y": {"field": "v", "type": "quantitative", "scale": {"domain": [0, 114.9], "nice": false, "zero": false}, "axis": null},
           "shape": {"field": "s", "type": "nominal", "scale": {"domain": ["PACAP-38 -\u00a0 n = 6", "PACAP-38+DxSO4 - n = 4"], "range": ["M-3.57,0H-1M1,0H3.57M-1,-1H1V1H-1Z", "M-3.57,0H-1.01M1.01,0H3.57M-1.01,-1.01H1.01V1.01H-1.01Z"]}},
           "stroke": {"field": "s", "type": "nominal", "scale": {"domain": ["PACAP-38 -\u00a0 n = 6", "PACAP-38+DxSO4 - n = 4"], "range": ["#000000", "#111111"]}},
           "strokeWidth": {"field": "s", "type": "ordinal", "scale": {"domain": ["PACAP-38 -\u00a0 n = 6", "PACAP-38+DxSO4 - n = 4"], "range": [2, 2]}},
           "fill": {"field": "s", "type": "nominal", "scale": {"domain": ["PACAP-38 -\u00a0 n = 6", "PACAP-38+DxSO4 - n = 4"], "range": ["#ffffff", "#bfbfbf"]},
             "legend": {"title": null, "orient": "none", "direction": "vertical", "legendX": 171.2, "legendY": -32.6, "symbolSize": 49, "symbolOffset": 20.1, "labelOffset": 8.3, "rowPadding": 7.3}}
         }}
      ]
    }
  ]
}
